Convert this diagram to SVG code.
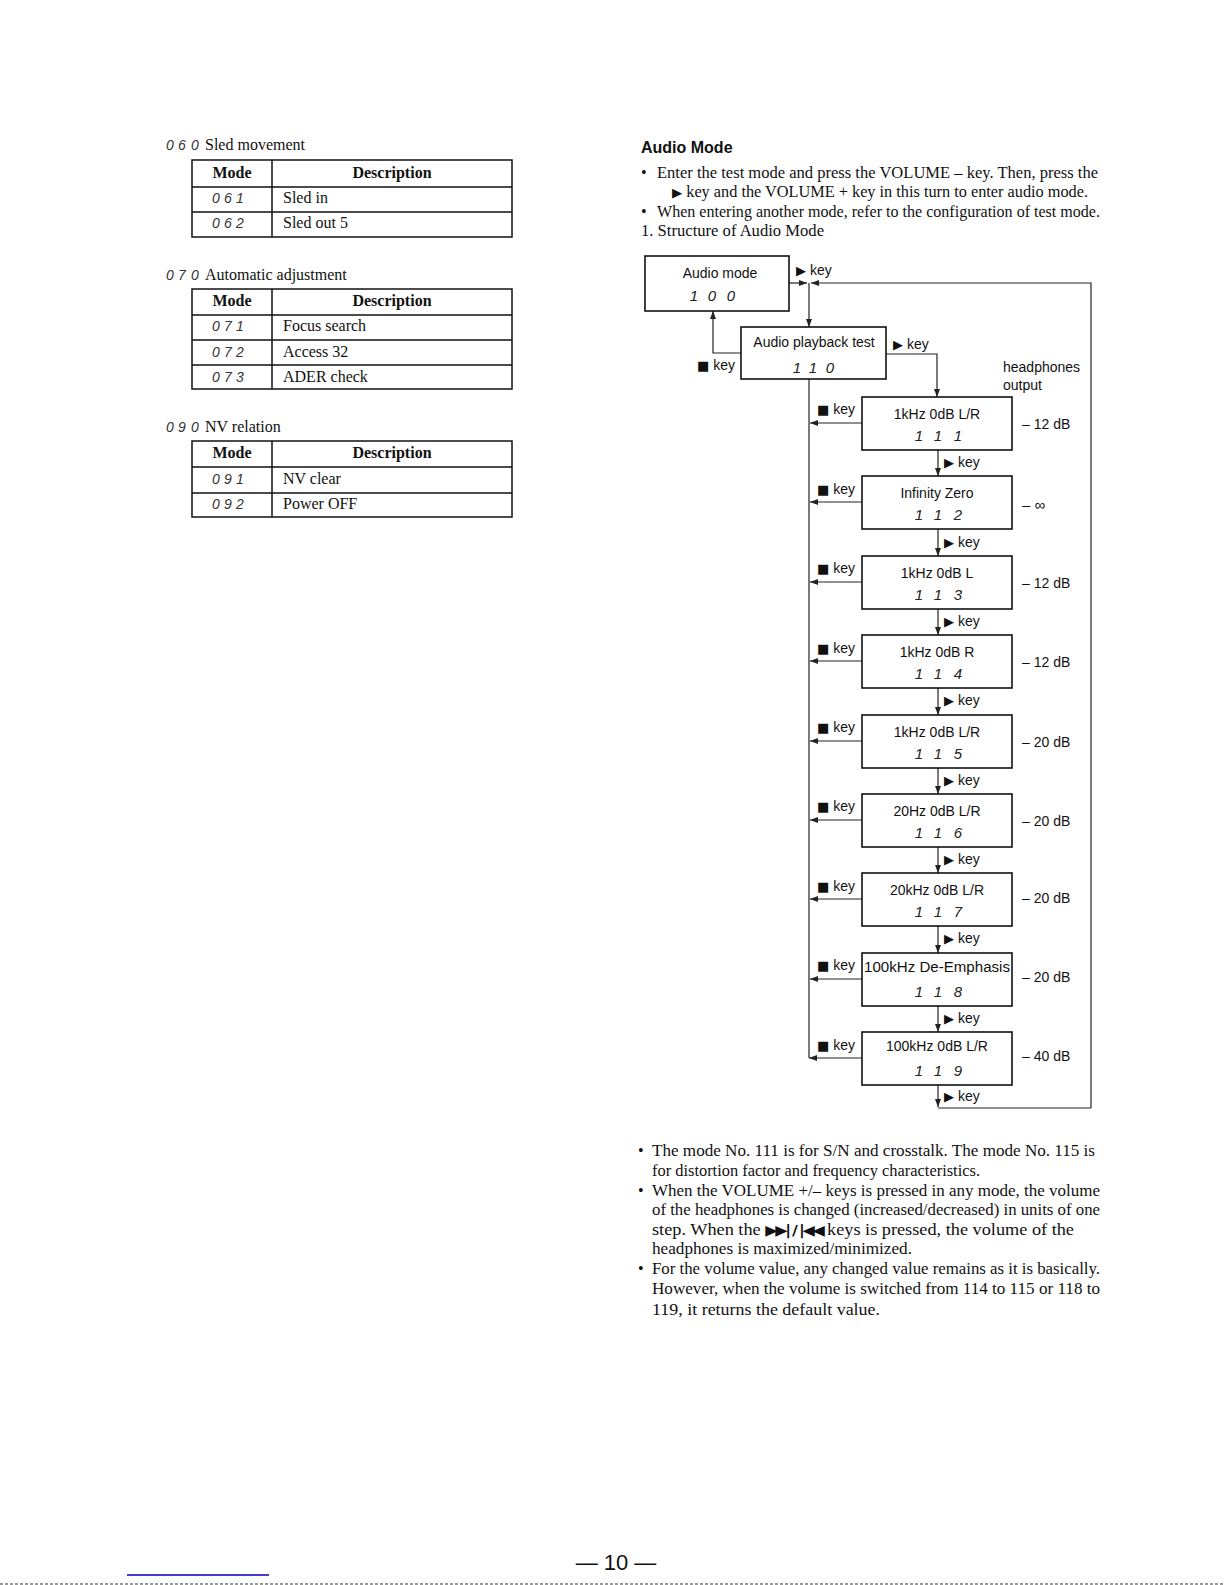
<svg xmlns="http://www.w3.org/2000/svg" width="1225" height="1585" viewBox="0 0 1225 1585">
<defs>
<style>
.serif{font-family:"Liberation Serif","Times New Roman",serif;font-size:16px;fill:#111}
.b{font-weight:bold}
.sans{font-family:"Liberation Sans",Arial,sans-serif;font-size:14px;fill:#111}
.lcd{font-family:"Liberation Sans",Arial,sans-serif;font-style:italic;font-size:15px;fill:#222;text-anchor:middle}
.lcds{font-family:"Liberation Sans",Arial,sans-serif;font-style:italic;font-size:14px;fill:#333;text-anchor:middle}
.sym{font-family:"DejaVu Sans",sans-serif;font-size:13px}
.box{fill:#fff;stroke:#111;stroke-width:1.6}
.tb{fill:none;stroke:#111;stroke-width:1.5}
.ln{fill:none;stroke:#222;stroke-width:1.2}
.mid{text-anchor:middle}
</style>
<marker id="ah" viewBox="0 0 8 6" refX="8" refY="3" markerWidth="8" markerHeight="6" markerUnits="userSpaceOnUse" orient="auto">
<path d="M0,0 L8,3 L0,6 z" fill="#222"/>
</marker>
</defs>
<rect width="1225" height="1585" fill="#fff"/>

<!-- Left tables -->
<g id="table-060">
<text x="170 182 195" y="150" class="lcds">060</text>
<text x="205" y="150" class="serif">Sled movement</text>
<rect x="192" y="160" width="320" height="77" class="tb"/>
<line x1="192" y1="187" x2="512" y2="187" class="tb"/>
<line x1="192" y1="212" x2="512" y2="212" class="tb"/>
<line x1="272" y1="160" x2="272" y2="237" class="tb"/>
<text x="232" y="178" class="serif b mid">Mode</text>
<text x="392" y="178" class="serif b mid">Description</text>
<text x="216 228 240" y="203" class="lcds">061</text>
<text x="283" y="203" class="serif">Sled in</text>
<text x="216 228 240" y="228" class="lcds">062</text>
<text x="283" y="228" class="serif">Sled out 5</text>
</g>

<g id="table-070">
<text x="170 182 195" y="280" class="lcds">070</text>
<text x="205" y="280" class="serif">Automatic adjustment</text>
<rect x="192" y="289" width="320" height="100" class="tb"/>
<line x1="192" y1="315" x2="512" y2="315" class="tb"/>
<line x1="192" y1="340" x2="512" y2="340" class="tb"/>
<line x1="192" y1="365" x2="512" y2="365" class="tb"/>
<line x1="272" y1="289" x2="272" y2="389" class="tb"/>
<text x="232" y="306" class="serif b mid">Mode</text>
<text x="392" y="306" class="serif b mid">Description</text>
<text x="216 228 240" y="331" class="lcds">071</text>
<text x="283" y="331" class="serif">Focus search</text>
<text x="216 228 240" y="357" class="lcds">072</text>
<text x="283" y="357" class="serif">Access 32</text>
<text x="216 228 240" y="382" class="lcds">073</text>
<text x="283" y="382" class="serif">ADER check</text>
</g>

<g id="table-090">
<text x="170 182 195" y="432" class="lcds">090</text>
<text x="205" y="432" class="serif">NV relation</text>
<rect x="192" y="441" width="320" height="76" class="tb"/>
<line x1="192" y1="467" x2="512" y2="467" class="tb"/>
<line x1="192" y1="493" x2="512" y2="493" class="tb"/>
<line x1="272" y1="441" x2="272" y2="517" class="tb"/>
<text x="232" y="458" class="serif b mid">Mode</text>
<text x="392" y="458" class="serif b mid">Description</text>
<text x="216 228 240" y="484" class="lcds">091</text>
<text x="283" y="484" class="serif">NV clear</text>
<text x="216 228 240" y="509" class="lcds">092</text>
<text x="283" y="509" class="serif">Power OFF</text>
</g>

<!-- Right intro text -->
<g id="intro">
<text x="641" y="153" class="sans b" style="font-size:16px">Audio Mode</text>
<text x="641" y="178" class="serif">•</text>
<text x="657" y="178" class="serif" textLength="441" lengthAdjust="spacingAndGlyphs">Enter the test mode and press the VOLUME – key. Then, press the</text>
<text x="672" y="197" class="serif" textLength="416" lengthAdjust="spacingAndGlyphs"><tspan class="sym">▶</tspan> key and the VOLUME + key in this turn to enter audio mode.</text>
<text x="641" y="217" class="serif">•</text>
<text x="657" y="217" class="serif" textLength="443" lengthAdjust="spacingAndGlyphs">When entering another mode, refer to the configuration of test mode.</text>
<text x="641" y="236" class="serif" textLength="183" lengthAdjust="spacingAndGlyphs">1. Structure of Audio Mode</text>
</g>

<!-- Connectors -->
<g id="connectors">
<line x1="789" y1="283" x2="807" y2="283" class="ln" marker-end="url(#ah)"/>
<path d="M1091,1108 L1091,283 L811,283" class="ln" marker-end="url(#ah)"/>
<line x1="809" y1="283" x2="809" y2="327" class="ln" marker-end="url(#ah)"/>
<path d="M741,353 L713,353 L713,311" class="ln" marker-end="url(#ah)"/>
<path d="M886,354 L937,354 L937,397" class="ln" marker-end="url(#ah)"/>
<line x1="809" y1="379" x2="809" y2="1058" class="ln"/>
<line x1="862" y1="423" x2="810" y2="423" class="ln" marker-end="url(#ah)"/>
<line x1="862" y1="502" x2="810" y2="502" class="ln" marker-end="url(#ah)"/>
<line x1="862" y1="582" x2="810" y2="582" class="ln" marker-end="url(#ah)"/>
<line x1="862" y1="661" x2="810" y2="661" class="ln" marker-end="url(#ah)"/>
<line x1="862" y1="741" x2="810" y2="741" class="ln" marker-end="url(#ah)"/>
<line x1="862" y1="820" x2="810" y2="820" class="ln" marker-end="url(#ah)"/>
<line x1="862" y1="899" x2="810" y2="899" class="ln" marker-end="url(#ah)"/>
<line x1="862" y1="979" x2="810" y2="979" class="ln" marker-end="url(#ah)"/>
<line x1="862" y1="1058" x2="809" y2="1058" class="ln" marker-end="url(#ah)"/>
<line x1="938" y1="450" x2="938" y2="476" class="ln" marker-end="url(#ah)"/>
<line x1="938" y1="529" x2="938" y2="556" class="ln" marker-end="url(#ah)"/>
<line x1="938" y1="609" x2="938" y2="635" class="ln" marker-end="url(#ah)"/>
<line x1="938" y1="688" x2="938" y2="715" class="ln" marker-end="url(#ah)"/>
<line x1="938" y1="768" x2="938" y2="794" class="ln" marker-end="url(#ah)"/>
<line x1="938" y1="847" x2="938" y2="873" class="ln" marker-end="url(#ah)"/>
<line x1="938" y1="926" x2="938" y2="953" class="ln" marker-end="url(#ah)"/>
<line x1="938" y1="1006" x2="938" y2="1032" class="ln" marker-end="url(#ah)"/>
<line x1="938" y1="1085" x2="938" y2="1107" class="ln" marker-end="url(#ah)"/>
<line x1="938" y1="1108" x2="1091" y2="1108" class="ln"/>
<!-- connector labels -->
<text x="796" y="275" class="sans"><tspan class="sym">▶</tspan> key</text>
<text x="893" y="349" class="sans"><tspan class="sym">▶</tspan> key</text>
<text x="697" y="370" class="sans"><tspan class="sym">■</tspan> key</text>
<text x="817" y="414" class="sans"><tspan class="sym">■</tspan> key</text>
<text x="817" y="494" class="sans"><tspan class="sym">■</tspan> key</text>
<text x="817" y="573" class="sans"><tspan class="sym">■</tspan> key</text>
<text x="817" y="653" class="sans"><tspan class="sym">■</tspan> key</text>
<text x="817" y="732" class="sans"><tspan class="sym">■</tspan> key</text>
<text x="817" y="811" class="sans"><tspan class="sym">■</tspan> key</text>
<text x="817" y="891" class="sans"><tspan class="sym">■</tspan> key</text>
<text x="817" y="970" class="sans"><tspan class="sym">■</tspan> key</text>
<text x="817" y="1050" class="sans"><tspan class="sym">■</tspan> key</text>
<text x="944" y="467" class="sans"><tspan class="sym">▶</tspan> key</text>
<text x="944" y="547" class="sans"><tspan class="sym">▶</tspan> key</text>
<text x="944" y="626" class="sans"><tspan class="sym">▶</tspan> key</text>
<text x="944" y="705" class="sans"><tspan class="sym">▶</tspan> key</text>
<text x="944" y="785" class="sans"><tspan class="sym">▶</tspan> key</text>
<text x="944" y="864" class="sans"><tspan class="sym">▶</tspan> key</text>
<text x="944" y="943" class="sans"><tspan class="sym">▶</tspan> key</text>
<text x="944" y="1023" class="sans"><tspan class="sym">▶</tspan> key</text>
<text x="944" y="1101" class="sans"><tspan class="sym">▶</tspan> key</text>
<text x="1003" y="372" class="sans">headphones</text>
<text x="1003" y="390" class="sans">output</text>
</g>

<!-- Nodes -->
<g id="node-100">
<rect x="645" y="256" width="144" height="55" class="box"/>
<text x="720" y="278" class="sans mid">Audio mode</text>
<text x="694 712 731" y="301" class="lcd">100</text>
</g>
<g id="node-110">
<rect x="741" y="327" width="145" height="52" class="box"/>
<text x="814" y="347" class="sans mid">Audio playback test</text>
<text x="797 813 830" y="373" class="lcd">110</text>
</g>
<g id="node-111">
<rect x="862" y="397" width="150" height="53" class="box"/>
<text x="937" y="419" class="sans mid">1kHz 0dB L/R</text>
<text x="919 938 958" y="441" class="lcd">111</text>
<text x="1022" y="429" class="sans">– 12 dB</text>
</g>
<g id="node-112">
<rect x="862" y="476" width="150" height="53" class="box"/>
<text x="937" y="498" class="sans mid">Infinity Zero</text>
<text x="919 938 958" y="520" class="lcd">112</text>
<text x="1022" y="510" class="sans" style="font-size:15px">– ∞</text>
</g>
<g id="node-113">
<rect x="862" y="556" width="150" height="53" class="box"/>
<text x="937" y="578" class="sans mid">1kHz 0dB L</text>
<text x="919 938 958" y="600" class="lcd">113</text>
<text x="1022" y="588" class="sans">– 12 dB</text>
</g>
<g id="node-114">
<rect x="862" y="635" width="150" height="53" class="box"/>
<text x="937" y="657" class="sans mid">1kHz 0dB R</text>
<text x="919 938 958" y="679" class="lcd">114</text>
<text x="1022" y="667" class="sans">– 12 dB</text>
</g>
<g id="node-115">
<rect x="862" y="715" width="150" height="53" class="box"/>
<text x="937" y="737" class="sans mid">1kHz 0dB L/R</text>
<text x="919 938 958" y="759" class="lcd">115</text>
<text x="1022" y="747" class="sans">– 20 dB</text>
</g>
<g id="node-116">
<rect x="862" y="794" width="150" height="53" class="box"/>
<text x="937" y="816" class="sans mid">20Hz 0dB L/R</text>
<text x="919 938 958" y="838" class="lcd">116</text>
<text x="1022" y="826" class="sans">– 20 dB</text>
</g>
<g id="node-117">
<rect x="862" y="873" width="150" height="53" class="box"/>
<text x="937" y="895" class="sans mid">20kHz 0dB L/R</text>
<text x="919 938 958" y="917" class="lcd">117</text>
<text x="1022" y="903" class="sans">– 20 dB</text>
</g>
<g id="node-118">
<rect x="862" y="953" width="150" height="53" class="box"/>
<text x="937" y="972" class="sans mid" textLength="146" lengthAdjust="spacingAndGlyphs">100kHz De-Emphasis</text>
<text x="919 938 958" y="997" class="lcd">118</text>
<text x="1022" y="982" class="sans">– 20 dB</text>
</g>
<g id="node-119">
<rect x="862" y="1032" width="150" height="53" class="box"/>
<text x="937" y="1051" class="sans mid">100kHz 0dB L/R</text>
<text x="919 938 958" y="1076" class="lcd">119</text>
<text x="1022" y="1061" class="sans">– 40 dB</text>
</g>

<!-- Notes -->
<g id="notes">
<text x="638" y="1156" class="serif">•</text>
<text x="652" y="1156" class="serif" textLength="443" lengthAdjust="spacingAndGlyphs">The mode No. 111 is for S/N and crosstalk. The mode No. 115 is</text>
<text x="652" y="1176" class="serif" textLength="328" lengthAdjust="spacingAndGlyphs">for distortion factor and frequency characteristics.</text>
<text x="638" y="1196" class="serif">•</text>
<text x="652" y="1196" class="serif" textLength="448" lengthAdjust="spacingAndGlyphs">When the VOLUME +/– keys is pressed in any mode, the volume</text>
<text x="652" y="1215" class="serif" textLength="448" lengthAdjust="spacingAndGlyphs">of the headphones is changed (increased/decreased) in units of one</text>
<text x="652" y="1235" class="serif" textLength="422" lengthAdjust="spacingAndGlyphs">step. When the <tspan style="font-family:'DejaVu Sans',sans-serif;font-size:14px;font-weight:bold;letter-spacing:-2px">▶▶| / |◀◀</tspan> keys is pressed, the volume of the</text>
<text x="652" y="1254" class="serif" textLength="260" lengthAdjust="spacingAndGlyphs">headphones is maximized/minimized.</text>
<text x="638" y="1274" class="serif">•</text>
<text x="652" y="1274" class="serif" textLength="448" lengthAdjust="spacingAndGlyphs">For the volume value, any changed value remains as it is basically.</text>
<text x="652" y="1294" class="serif" textLength="448" lengthAdjust="spacingAndGlyphs">However, when the volume is switched from 114 to 115 or 118 to</text>
<text x="652" y="1315" class="serif" textLength="228" lengthAdjust="spacingAndGlyphs">119, it returns the default value.</text>
</g>

<g id="footer">
<text x="616" y="1570" class="sans mid" style="font-size:22px">— 10 —</text>
<line x1="127" y1="1575" x2="269" y2="1575" stroke="#0000cc" stroke-width="1.5"/>
<line x1="0" y1="1584" x2="1225" y2="1584" stroke="#333" stroke-width="1" stroke-dasharray="3,2"/>
</g>
</svg>
